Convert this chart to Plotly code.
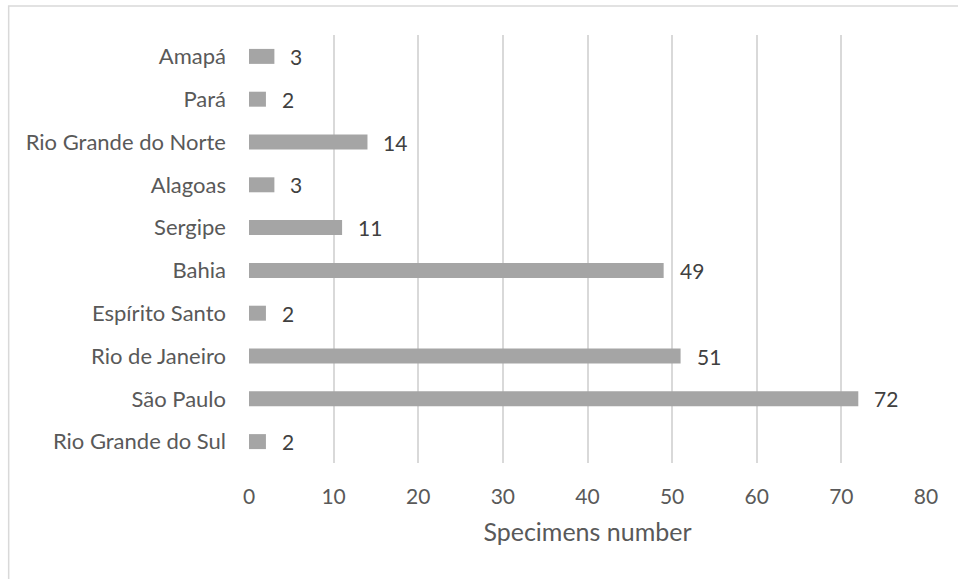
import plotly.graph_objects as go

states = ["Rio Grande do Sul", "São Paulo", "Rio de Janeiro", "Espírito Santo", "Bahia",
          "Sergipe", "Alagoas", "Rio Grande do Norte", "Pará", "Amapá"]
counts = [2, 72, 51, 2, 49, 11, 3, 14, 2, 3]
x_ticks = [0, 10, 20, 30, 40, 50, 60, 70, 80]
x_title = "Specimens number"

FONT = "Lato"
fig = go.Figure()
fig.add_trace(go.Bar(
    x=counts, y=states, orientation="h",
    marker=dict(color="#A5A5A5", line=dict(width=0)),
    hoverinfo="x+y",
))

annotations = [
    dict(x=v, y=s, xref="x", yref="y", text=str(v), showarrow=False,
         xanchor="left", xshift=14, font=dict(family=FONT, size=21, color="#404040"))
    for s, v in zip(states, counts)
]

fig.update_layout(
    width=958, height=579,
    margin=dict(l=249, r=32, t=35, b=116),
    paper_bgcolor="white", plot_bgcolor="white",
    bargap=0.65,
    showlegend=False,
    font=dict(family=FONT, size=21, color="#595959"),
    annotations=annotations,
    shapes=[
        dict(type="path", xref="paper", yref="paper",
             path="M -0.355,-0.3 L -0.355,1.0678 L 1.06,1.0678",
             line=dict(color="#D9D9D9", width=1.5)),
    ],
)
fig.update_xaxes(
    range=[0, 80], tickvals=x_ticks, showgrid=True, gridcolor="#D9D9D9", gridwidth=1.5,
    zeroline=False, showline=False, ticks="", ticklabelstandoff=19,
    tickfont=dict(family=FONT, size=21, color="#595959"),
    title=dict(text=x_title, standoff=16, font=dict(family=FONT, size=25, color="#595959")),
)
fig.update_yaxes(
    categoryorder="array", categoryarray=states,
    showgrid=False, zeroline=False, showline=False, ticks="", ticklabelstandoff=22,
    tickfont=dict(family=FONT, size=22, color="#595959"),
)
fig.write_html("out.html")
